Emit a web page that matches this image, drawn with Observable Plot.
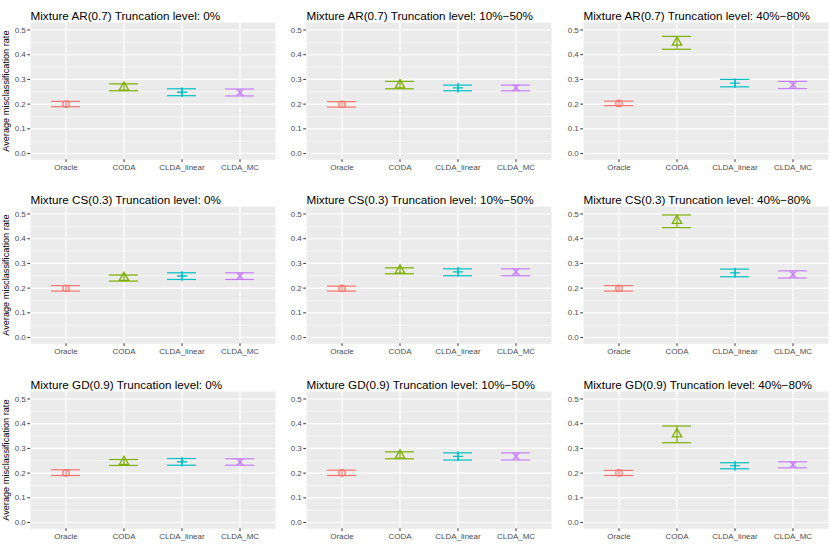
<!DOCTYPE html>
<html>
<head>
<meta charset="utf-8">
<script src="https://cdn.jsdelivr.net/npm/d3@7"></script>
<script src="https://cdn.jsdelivr.net/npm/@observablehq/plot@0.6"></script>
<style>
  body { margin: 0; background: #ffffff; }
  #chart { position: relative; width: 830px; height: 553px; overflow: hidden; background: #ffffff; }
  #chart svg { position: absolute; overflow: visible; }
</style>
</head>
<body>
<div id="chart"></div>
<script>
// ---- data ----
const categories = ["Oracle", "CODA", "CLDA_linear", "CLDA_MC"];
const models = ["Mixture AR(0.7)", "Mixture CS(0.3)", "Mixture GD(0.9)"];
const truncations = ["0%", "10%\u221250%", "40%\u221280%"];
const yTicks = [0, 0.1, 0.2, 0.3, 0.4, 0.5];
const yMinorTicks = [0.05, 0.15, 0.25, 0.35, 0.45];
const yAxisTitle = "Average misclassification rate";

// each array: one row per truncation level, one value per category
const arMean  = [[0.200, 0.268, 0.248, 0.247], [0.199, 0.277, 0.266, 0.266], [0.203, 0.450, 0.285, 0.278]];
const arLower = [[0.1895, 0.254, 0.234, 0.233], [0.188, 0.262, 0.254, 0.254], [0.194, 0.422, 0.270, 0.263]];
const arUpper = [[0.211, 0.282, 0.262, 0.261], [0.210, 0.292, 0.277, 0.277], [0.212, 0.474, 0.300, 0.292]];

const csMean  = [[0.199, 0.242, 0.249, 0.249], [0.199, 0.272, 0.266, 0.266], [0.199, 0.473, 0.262, 0.255]];
const csLower = [[0.188, 0.2285, 0.235, 0.235], [0.188, 0.258, 0.250, 0.250], [0.188, 0.445, 0.246, 0.241]];
const csUpper = [[0.210, 0.253, 0.262, 0.262], [0.208, 0.282, 0.278, 0.278], [0.210, 0.496, 0.277, 0.270]];

const gdMean  = [[0.201, 0.246, 0.246, 0.245], [0.201, 0.272, 0.268, 0.268], [0.201, 0.358, 0.230, 0.234]];
const gdLower = [[0.1905, 0.231, 0.232, 0.232], [0.1905, 0.258, 0.253, 0.253], [0.1905, 0.323, 0.2175, 0.2215]];
const gdUpper = [[0.2135, 0.255, 0.259, 0.258], [0.212, 0.286, 0.282, 0.282], [0.211, 0.3905, 0.242, 0.246]];

const modelValues = [
  {mean: arMean, lower: arLower, upper: arUpper},
  {mean: csMean, lower: csLower, upper: csUpper},
  {mean: gdMean, lower: gdLower, upper: gdUpper}
];

// ---- styles / layout ----
const colors = ["#F8766D", "#7CAE00", "#00BFC4", "#C77CFF"];
const shapes = [
  {symbol: "circle", r: 3.2},
  {symbol: "triangle", r: 3.5},
  {symbol: "plus", r: 3.3},
  {symbol: "times", r: 3.2}
];
const panelLefts = [30, 306, 583];
const panelTops = [22, 205.8, 390.5];
const PW = 245, PH = 137.3, ML = 30, MT = 22, MR = 3, MB = 26;
const fontFamily = "'Liberation Sans', Arial, Helvetica, sans-serif";

const chart = document.getElementById("chart");

models.forEach((model, i) => {
  truncations.forEach((trunc, j) => {
    const vals = modelValues[i];
    const data = categories.map((cat, k) => ({
      cat,
      mean: vals.mean[j][k],
      lo: vals.lower[j][k],
      hi: vals.upper[j][k]
    }));
    const title = `${model} Truncation level: ${trunc}`;
    const marks = [
      Plot.frame({fill: "#EBEBEB", stroke: null}),
      Plot.gridY(yMinorTicks, {stroke: "white", strokeOpacity: 1, strokeWidth: 0.55}),
      Plot.gridY(yTicks, {stroke: "white", strokeOpacity: 1, strokeWidth: 1.1}),
      Plot.gridX({stroke: "white", strokeOpacity: 1, strokeWidth: 1.1}),
      Plot.axisY(yTicks, {tickSize: 2.7, tickPadding: 2, tickFormat: d3.format(".1f"), fontSize: 8, stroke: "#333333", fill: "#4D4D4D", label: null}),
      Plot.axisX({tickSize: 2.7, tickPadding: 2, fontSize: 8, stroke: "#333333", fill: "#4D4D4D", label: null}),
      Plot.ruleX(data, {x: "cat", y1: "lo", y2: "hi", stroke: "cat", strokeWidth: 1.2}),
      Plot.tickY(data, {x: "cat", y: "lo", stroke: "cat", strokeWidth: 1.2}),
      Plot.tickY(data, {x: "cat", y: "hi", stroke: "cat", strokeWidth: 1.2}),
      ...shapes.map((s, k) => Plot.dot(data.filter(d => d.cat === categories[k]), {
        x: "cat", y: "mean", stroke: "cat", fill: "none", symbol: s.symbol, r: s.r, strokeWidth: 1.3
      })),
      Plot.text([title], {frameAnchor: "top-left", dy: -11, fontSize: 11.7, fill: "black", textAnchor: "start"})
    ];
    if (j === 0) {
      marks.push(Plot.text([yAxisTitle], {frameAnchor: "left", textAnchor: "middle", rotate: -90, dx: -24, fontSize: 9.2, fill: "black"}));
    }
    const svg = Plot.plot({
      width: ML + PW + MR,
      height: MT + PH + MB,
      marginLeft: ML, marginRight: MR, marginTop: MT, marginBottom: MB,
      style: {fontFamily, background: "transparent", overflow: "visible"},
      x: {type: "band", domain: categories, paddingInner: 0.5, paddingOuter: 0.35, axis: null},
      y: {domain: [-0.02525, 0.53025], axis: null},
      color: {domain: categories, range: colors},
      marks
    });
    svg.style.left = (panelLefts[j] - ML) + "px";
    svg.style.top = (panelTops[i] - MT) + "px";
    chart.appendChild(svg);
  });
});
</script>
</body>
</html>
